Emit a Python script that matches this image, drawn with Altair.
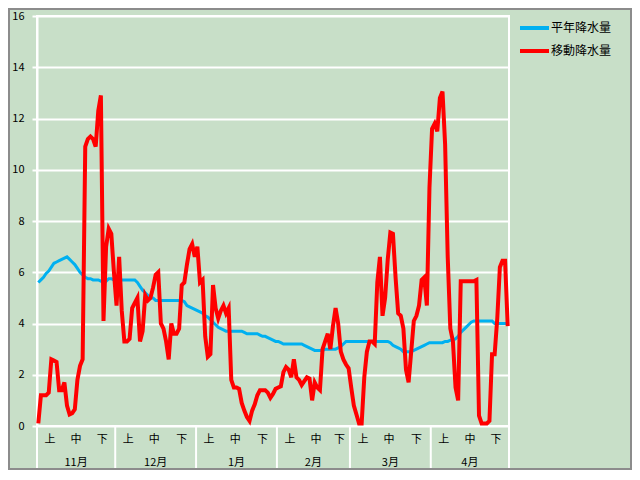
import altair as alt
import pandas as pd

# ---- data (daily, 1 Nov .. 30 Apr) ----
months = ["11月", "12月", "1月", "2月", "3月", "4月"]
month_days = [30, 31, 31, 28, 31, 30]
periods = ["上", "中", "下"]
series_names = ["平年降水量", "移動降水量"]
series_colors = ["#00B0F0", "#FF0000"]

heinen = [
    5.6, 5.7, 5.8, 5.95, 6.05, 6.2, 6.35, 6.4, 6.45, 6.5,
    6.55, 6.6, 6.5, 6.4, 6.3, 6.15, 6.0, 5.9, 5.8, 5.75,
    5.75, 5.7, 5.7, 5.7, 5.65, 5.6, 5.65, 5.75, 5.75, 5.7,
    5.7, 5.7, 5.7, 5.7, 5.7, 5.7, 5.7, 5.7, 5.6, 5.45,
    5.3, 5.2, 5.1, 5.0, 5.0, 4.9, 4.9, 4.9, 4.9, 4.9,
    4.9, 4.9, 4.9, 4.9, 4.9, 4.9, 4.85, 4.7, 4.65, 4.6,
    4.55,
    4.5, 4.45, 4.4, 4.3, 4.25, 4.15, 4.05, 3.95, 3.85, 3.8,
    3.75, 3.7, 3.7, 3.7, 3.7, 3.7, 3.7, 3.7, 3.65, 3.6,
    3.6, 3.6, 3.6, 3.6, 3.55, 3.5, 3.5, 3.45, 3.4, 3.35,
    3.3,
    3.3, 3.25, 3.2, 3.2, 3.2, 3.2, 3.2, 3.2, 3.2, 3.2,
    3.15, 3.1, 3.05, 3.0, 2.95, 2.95, 2.95, 2.95, 3.0, 3.0,
    3.0, 3.0, 3.0, 3.05, 3.1, 3.2, 3.3, 3.3,
    3.3, 3.3, 3.3, 3.3, 3.3, 3.3, 3.3, 3.3, 3.3, 3.3,
    3.3, 3.3, 3.3, 3.3, 3.3, 3.25, 3.15, 3.1, 3.05, 3.0,
    2.9, 2.9, 2.9, 2.9, 2.95, 3.0, 3.05, 3.1, 3.15, 3.2,
    3.25,
    3.25, 3.25, 3.25, 3.25, 3.25, 3.3, 3.3, 3.35, 3.35, 3.4,
    3.5, 3.65, 3.75, 3.85, 3.95, 4.05, 4.1, 4.1, 4.1, 4.1,
    4.1, 4.1, 4.1, 4.1, 4.0, 4.0, 4.0, 4.0, 4.0, 4.0,
]

idou = [
    0.1, 1.2, 1.2, 1.2, 1.3, 2.6, 2.55, 2.5, 1.4, 1.4,
    1.7, 0.8, 0.45, 0.5, 0.65, 1.8, 2.35, 2.6, 10.9, 11.2,
    11.3, 11.2, 10.9, 12.3, 12.9, 4.1, 7.0, 7.7, 7.5, 6.0,
    4.7, 6.6, 4.5, 3.3, 3.3, 3.4, 4.6, 4.8, 5.0, 3.3,
    3.7, 5.1, 4.9, 5.0, 5.4, 5.9, 6.0, 4.0, 3.8, 3.3,
    2.6, 4.0, 3.6, 3.6, 3.8, 5.5, 5.6, 6.3, 6.9, 7.1,
    6.6,
    7.0, 5.6, 5.7, 3.5, 2.7, 2.8, 5.5, 4.6, 4.2, 4.5,
    4.7, 4.4, 4.6, 1.8, 1.5, 1.5, 1.45, 0.9, 0.6, 0.35,
    0.2, 0.6, 0.85, 1.2, 1.4, 1.4, 1.4, 1.3, 1.1, 1.25,
    1.45,
    1.5, 1.55, 2.1, 2.3, 2.2, 1.9, 2.6, 1.9, 1.8, 1.6,
    1.75, 1.9, 1.85, 1.0, 1.7, 1.5, 1.4, 3.0, 3.3, 3.6,
    3.0, 3.9, 4.6, 4.0, 2.9, 2.6, 2.4, 2.25,
    1.5, 0.8, 0.45, 0.1, 0.1, 1.9, 2.9, 3.3, 3.3, 3.2,
    5.6, 6.6, 4.3, 5.0, 6.5, 7.55, 7.5, 5.8, 4.4, 4.3,
    3.8, 2.2, 1.7, 2.9, 4.1, 4.3, 4.7, 5.7, 5.8, 4.7,
    9.3,
    11.6, 11.8, 11.5, 12.8, 13.05, 11.0, 6.6, 3.8, 3.3, 1.5,
    1.0, 5.65, 5.65, 5.65, 5.65, 5.65, 5.65, 5.7, 0.4, 0.1,
    0.1, 0.1, 0.2, 2.8, 2.8, 4.2, 6.2, 6.45, 6.45, 3.9,
]

W, H = 472, 410
FONT = "Noto Sans CJK JP"

days = list(range(len(heinen)))
df = pd.DataFrame({"day": days * 2,
                   "value": heinen + idou,
                   "series": [series_names[0]] * len(days) + [series_names[1]] * len(days)})

# category axis helpers
starts = []
s = 0
for n in month_days:
    starts.append(s)
    s += n
period_rows = []
for st, n in zip(starts, month_days):
    centers = [st + 4.5, st + 14.5, st + (20 + n) / 2 - 0.5]
    for p, c in zip(periods, centers):
        period_rows.append({"pos": c, "label": p})
period_df = pd.DataFrame(period_rows)
month_df = pd.DataFrame({"pos": [st + (n - 1) / 2 for st, n in zip(starts, month_days)],
                         "label": months})
bounds_df = pd.DataFrame({"pos": [st - 0.5 for st in starts] + [s - 0.5]})

xscale = alt.Scale(domain=[-0.5, s - 0.5], nice=False, zero=False)
yscale = alt.Scale(domain=[0, 16], nice=False)

yaxis = alt.Axis(values=list(range(0, 17, 2)), grid=True, gridColor="white", gridWidth=2,
                 tickColor="white", tickSize=5, tickWidth=2, domainColor="white", domainWidth=2,
                 labelPadding=8, labelFontSize=11, labelColor="#000000", labelFont=FONT, title=None)

base = alt.Chart(df).encode(
    x=alt.X("day:Q", scale=xscale, axis=None),
    y=alt.Y("value:Q", scale=yscale, axis=yaxis),
)

blue = base.transform_filter(alt.datum.series == series_names[0]).mark_line(
    color=series_colors[0], strokeWidth=3)
red = base.transform_filter(alt.datum.series == series_names[1]).mark_line(
    color=series_colors[1], strokeWidth=4)

seps = alt.Chart(bounds_df).mark_rule(color="white", strokeWidth=2).encode(
    x=alt.X("pos:Q", scale=xscale, axis=None),
    y=alt.value(H), y2=alt.value(H + 44))

ptext = alt.Chart(period_df).mark_text(font=FONT, fontSize=11, color="#000000", baseline="middle").encode(
    x=alt.X("pos:Q", scale=xscale, axis=None), y=alt.value(H + 14), text="label:N")

mtext = alt.Chart(month_df).mark_text(font=FONT, fontSize=11, color="#000000", baseline="middle").encode(
    x=alt.X("pos:Q", scale=xscale, axis=None), y=alt.value(H + 37), text="label:N")

# legend (drawn as marks, one row per series)
leg_df = pd.DataFrame({"series": series_names, "color": series_colors})
leg_rows = [12, 35]
legend_layers = []
for k, name in enumerate(series_names):
    sub = leg_df[leg_df["series"] == name]
    legend_layers.append(alt.Chart(sub).mark_rule(strokeWidth=4, color=series_colors[k]).encode(
        x=alt.value(W + 11), x2=alt.value(W + 40), y=alt.value(leg_rows[k])))
    legend_layers.append(alt.Chart(sub).mark_text(font=FONT, fontSize=12, color="#000000", align="left",
                                                  baseline="middle").encode(
        x=alt.value(W + 42), y=alt.value(leg_rows[k]), text="series:N"))

frame = alt.Chart(pd.DataFrame({"a": [0]})).mark_rect(fill=None, stroke="#8C8C8C", strokeWidth=2).encode(
    x=alt.value(-28), x2=alt.value(W + 122), y=alt.value(-7), y2=alt.value(H + 43))

chart = alt.layer(blue, red, seps, ptext, mtext, *legend_layers, frame).properties(
    width=W, height=H,
    autosize=alt.AutoSizeParams(type="none"),
    padding={"left": 29, "top": 8, "right": 123, "bottom": 44},
    background="#C8DFC8",
).configure_view(
    stroke="white", strokeWidth=2, fill="#C8DFC8"
)

chart.save("out.html", embed_options={"renderer": "svg", "actions": False})
